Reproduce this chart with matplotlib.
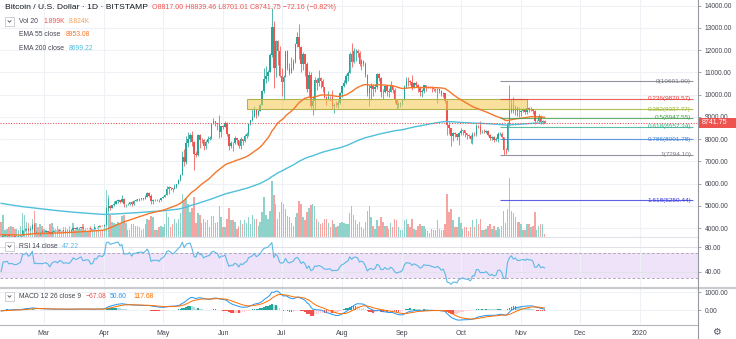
import numpy as np
import pandas as pd
import matplotlib
matplotlib.use("Agg")
import matplotlib.pyplot as plt
from matplotlib.patches import Rectangle
from matplotlib.lines import Line2D

plt.rcParams['font.family'] = ['Liberation Sans', 'DejaVu Sans']

W, H = 736, 339

# ---------------- daily BTC/USD bars (Bitstamp), 2019-02-07 .. 2019-11-13 ----------------
first_date = "2019-02-07"
first_open = 3400.0
last_open = 8817.00

close = [
    # Feb
    3399, 3666, 3673, 3690, 3625, 3637, 3625, 3605, 3614, 3635, 3671, 3912, 3926, 3980, 3916, 3968,
    4145, 3809, 3838, 3816, 3824, 3816,
    # Mar
    3834, 3849, 3816, 3740, 3845, 3883, 3891, 3864, 3931, 3917, 3870, 3886, 3878, 3877, 3924, 4005,
    3981, 3986, 4016, 4040, 3984, 3993, 4004, 3998, 3943, 3952, 4047, 4041, 4114, 4111, 4105,
    # Apr
    4158, 4880, 4974, 4922, 5036, 5082, 5200, 5258, 5178, 5325, 5064, 5089, 5096, 5167, 5067, 5235,
    5251, 5298, 5303, 5337, 5314, 5399, 5572, 5464, 5210, 5279, 5268, 5285, 5247, 5350,
    # May
    5402, 5505, 5768, 5831, 5795, 5746, 5829, 5982, 6174, 6379, 7204, 6972, 7815, 7994, 8205, 7885,
    7343, 7272, 8197, 7978, 7963, 7680, 7881, 7987, 8052, 8673, 8805, 8719, 8659, 8319, 8574,
    # Jun
    8564, 8742, 8208, 7707, 7824, 7822, 8043, 7954, 7688, 8000, 7927, 8145, 8230, 8693, 8838, 8975,
    9320, 9081, 9273, 9527, 10144, 10701, 10855, 11011, 11790, 13016, 11182, 12407, 11959, 10817,
    # Jul
    10583, 10801, 11961, 11215, 10978, 11208, 11450, 12285, 12573, 12156, 11358, 11815, 11392, 10256,
    10895, 9477, 9693, 10666, 10530, 10767, 10599, 10343, 9900, 9811, 9911, 9871, 9477, 9552, 9519,
    9607, 10085,
    # Aug
    10399, 10518, 10821, 10970, 11805, 11478, 11941, 11966, 11862, 11354, 11523, 11382, 10895, 10051,
    10311, 10374, 10231, 10345, 10918, 10763, 10138, 10131, 10407, 10159, 10138, 10370, 10185, 9754,
    9510, 9598, 9630,
    # Sep
    9757, 10346, 10623, 10594, 10575, 10353, 10517, 10441, 10334, 10115, 10178, 10410, 10360, 10358,
    10347, 10276, 10241, 10198, 10266, 10181, 10019, 10070, 9729, 8620, 8486, 8118, 8251, 8245, 8104,
    8293,
    # Oct
    8343, 8393, 8259, 8205, 8151, 7988, 8245, 8228, 8595, 8586, 8321, 8336, 8321, 8374, 8205, 8047,
    8103, 7973, 7988, 8222, 8243, 8078, 7514, 7493, 8660, 9244, 9551, 9256, 9427, 9205, 9199,
    # Nov
    9261, 9324, 9235, 9413, 9342, 9360, 9267, 8804, 8813, 9055, 8757, 8813.91, 8741.75,
]

high = [
    3427, 3700, 3683, 3700, 3694, 3664, 3667, 3640, 3645, 3665, 3700, 3920, 4000, 3990, 4010, 3985,
    4200, 4210, 3880, 3845, 3845, 3895,
    3868, 3860, 3850, 3830, 3880, 3900, 3915, 3940, 3950, 3935, 3920, 3900, 3895, 3920, 3935, 4050,
    4005, 4035, 4030, 4055, 4070, 4010, 4015, 4010, 4000, 3965, 4060, 4050, 4125, 4135, 4120,
    4175, 4960, 5345, 5060, 5060, 5230, 5250, 5330, 5265, 5470, 5340, 5100, 5120, 5180, 5200, 5250,
    5290, 5320, 5340, 5350, 5340, 5480, 5630, 5620, 5530, 5330, 5310, 5320, 5295, 5370,
    5420, 5540, 5900, 5880, 5850, 5800, 5990, 6000, 6190, 6430, 7450, 7560, 8150, 8300, 8280, 8350,
    7930, 7470, 8240, 8210, 8040, 8020, 7950, 8140, 8120, 8720, 8950, 8820, 8730, 9100, 8600,
    8620, 8810, 8750, 8240, 7900, 7870, 8140, 8060, 7970, 8090, 8000, 8230, 8310, 8720, 8870, 9350,
    9470, 9330, 9300, 9560, 10200, 11200, 11300, 11100, 11850, 13880, 13300, 12450, 12450, 12200,
    11200, 10900, 11980, 12000, 11400, 11700, 11600, 12330, 12800, 13150, 12200, 11900, 11840, 11450,
    11050, 11000, 9950, 10800, 10750, 11100, 10800, 10680, 10350, 9930, 10170, 9950, 10200, 9620, 9720,
    9750, 10100,
    10450, 10650, 10920, 11080, 11900, 12300, 12100, 12050, 12030, 11950, 11580, 11540, 11450, 10920,
    10440, 10520, 10480, 10490, 10950, 10950, 10800, 10250, 10450, 10420, 10300, 10600, 10400, 10280,
    9780, 9680, 9670,
    9800, 10450, 10800, 10780, 10640, 10900, 10560, 10590, 10480, 10400, 10240, 10450, 10440, 10400,
    10390, 10370, 10280, 10270, 10300, 10300, 10200, 10100, 10080, 9800, 8750, 8520, 8300, 8320, 8250,
    8330,
    8500, 8410, 8400, 8280, 8230, 8170, 8330, 8330, 8670, 8640, 8800, 8400, 8450, 8400, 8400, 8210,
    8130, 8120, 8100, 8300, 8320, 8330, 8090, 7600, 8780, 10450, 9800, 9900, 9540, 9440, 9420,
    9300, 9380, 9380, 9500, 9460, 9420, 9370, 9300, 8850, 9120, 9060, 8880, 8839.46,
]

low = [
    3383, 3390, 3634, 3620, 3610, 3584, 3607, 3584, 3599, 3610, 3620, 3660, 3860, 3900, 3880, 3905,
    3950, 3740, 3785, 3770, 3680, 3790,
    3810, 3805, 3795, 3715, 3730, 3830, 3865, 3840, 3855, 3880, 3855, 3835, 3855, 3830, 3875, 3915,
    3955, 3955, 3975, 3995, 3960, 3970, 3980, 3980, 3910, 3920, 3945, 4020, 4035, 4070, 4090,
    4085, 4150, 4790, 4810, 4920, 5000, 5065, 5150, 5140, 5170, 4960, 4950, 5050, 5050, 5000, 5060,
    5220, 5240, 5230, 5280, 5250, 5300, 5390, 5400, 5100, 5070, 5240, 5240, 5190, 5230,
    5345, 5395, 5495, 5550, 5700, 5610, 5745, 5780, 5980, 6130, 6370, 6800, 6890, 7660, 7860, 7670,
    6600, 7200, 7250, 7600, 7840, 7500, 7560, 7820, 7950, 8000, 8670, 8600, 8420, 8050, 8100,
    8460, 8540, 8130, 7500, 7600, 7460, 7790, 7800, 7590, 7540, 7750, 7850, 8060, 8160, 8620, 8830,
    8970, 8940, 9050, 9250, 9520, 10080, 10540, 10600, 11000, 11700, 10300, 10800, 11350, 10800,
    9950, 9750, 10800, 11100, 10880, 10960, 11100, 11400, 12150, 11600, 11000, 11100, 10850, 10100,
    9900, 9400, 9070, 9300, 10200, 10400, 10300, 10100, 9850, 9550, 9750, 9700, 9370, 9150, 9450,
    9400, 9590,
    9900, 10350, 10480, 10600, 10950, 11250, 11400, 11500, 11700, 11300, 11100, 11300, 10780, 9950,
    9500, 9750, 9950, 10100, 10260, 10600, 9900, 9800, 10050, 9950, 9900, 10100, 10050, 9620,
    9350, 9380, 9460,
    9550, 9740, 10300, 10400, 10450, 10200, 10300, 10330, 10100, 9950, 9900, 10050, 10150, 10300,
    10280, 10100, 10150, 10100, 9620, 10080, 9950, 9900, 9620, 8200, 8250, 7700, 7900, 8100, 7950,
    7720,
    8200, 8200, 8100, 8000, 8050, 7830, 7800, 8130, 8150, 8480, 8250, 8280, 8260, 8260, 8120, 7960,
    7950, 7850, 7900, 7880, 8180, 8030, 7294.10, 7350, 7450, 8600, 9150, 9170, 9100, 9050, 8970,
    9050, 9210, 9130, 9140, 9200, 9260, 9120, 8680, 8750, 8750, 8700, 8660, 8701.01,
]

# volume, thousands of BTC
volume_k = [
    11, 16, 5, 6, 7, 8, 7, 6, 6, 5, 8, 17, 16, 11, 10, 8, 13, 19, 10, 7, 9, 8,
    6, 5, 4, 9, 10, 7, 6, 8, 6, 4, 7, 7, 6, 8, 6, 10, 5, 7, 6, 6, 9, 5, 4, 4, 8, 6, 9, 5, 8, 5, 4,
    8, 34, 30, 16, 11, 10, 9, 11, 9, 15, 16, 10, 5, 5, 9, 9, 8, 8, 7, 5, 6, 9, 13, 12, 15, 14, 5, 5, 7, 8,
    7, 9, 18, 14, 7, 9, 13, 10, 13, 17, 31, 26, 28, 24, 18, 21, 29, 10, 17, 16, 10, 13, 11, 12, 7, 15,
    15, 10, 11, 22, 14,
    7, 7, 13, 21, 12, 12, 11, 6, 8, 12, 9, 12, 10, 14, 9, 16, 13, 13, 8, 11, 18, 29, 16, 13, 19, 40,
    30, 24, 13, 18,
    25, 24, 20, 15, 14, 10, 8, 14, 17, 26, 24, 14, 12, 18, 21, 23, 24, 22, 13, 11, 9, 10, 13, 13, 10,
    7, 12, 9, 7, 8, 10,
    11, 10, 9, 9, 17, 22, 16, 12, 9, 11, 7, 6, 11, 19, 22, 14, 8, 6, 12, 8, 14, 11, 8, 8, 6, 10, 7,
    13, 12, 7, 5,
    5, 12, 13, 9, 7, 13, 6, 5, 8, 9, 8, 8, 6, 4, 3, 6, 5, 5, 12, 6, 5, 5, 9, 31, 18, 20, 12, 7, 7, 14,
    10, 6, 7, 7, 4, 7, 12, 7, 13, 9, 13, 5, 5, 6, 8, 9, 6, 8, 5, 7, 6, 8, 19, 10, 20, 42, 19, 17, 14,
    11, 11,
    9, 5, 5, 9, 9, 7, 8, 18, 5, 8, 9, 9, 1.899,
]

# latest indicator readings shown in the pane legends
vol_ma_text = "8.824K"
ema55_text, ema200_text = "8953.08", "8699.22"
rsi_text = "47.22"
macd_hist_text, macd_text, macd_signal_text = "\u221267.08", "50.60", "117.68"

# ---------------- drawings ----------------
fib_levels = ["0", "0.236", "0.382", "0.5", "0.618", "0.786", "1", "1.618"]
fib_prices = [10601.00, 9820.57, 9337.77, 8947.55, 8557.34, 8001.78, 7294.10, 5250.44]
fib_colors = ["#787b86", "#e53935", "#9ab52c", "#43a047", "#2fae8c", "#3d7fd6", "#787b86", "#3a3adf"]
fib_start, fib_end = "2019-10-21", "2020-01-28"

zone_low, zone_high = 9370, 9780
zone_start, zone_end = "2019-06-13", "2019-11-04"

# indicator state carried in from the bars before the window
ema55_prior, ema200_prior = 3720.0, 5130.0
ema12_prior, ema26_prior, signal_prior = 3480.0, 3530.0, -45.0
rsi_gain_prior, rsi_loss_prior = 25.0, 37.0

month_ticks = ["2019-03-01", "2019-04-01", "2019-05-01", "2019-06-01", "2019-07-01", "2019-08-01",
               "2019-09-01", "2019-10-01", "2019-11-01", "2019-12-01", "2020-01-01"]
month_labels = ["Mar", "Apr", "May", "Jun", "Jul", "Aug", "Sep", "Oct", "Nov", "Dec", "2020"]
price_ticks = [4000, 5000, 6000, 7000, 8000, 9000, 10000, 11000, 12000, 13000, 14000]
rsi_ticks = [40, 80]
macd_ticks = [0, 1000]

# ---------------- derived series ----------------
origin = pd.Timestamp("2019-03-01")
def day(d):
    return (pd.Timestamp(d) - origin).days

dates = pd.date_range(first_date, periods=len(close), freq="D")
x = np.array([(d - origin).days for d in dates], dtype=float)
c = np.array(close, dtype=float)
h = np.array(high, dtype=float)
l = np.array(low, dtype=float)
o = np.concatenate([[first_open], c[:-1]])
o[-1] = last_open
v = np.array(volume_k, dtype=float)

def ema(vals, span, prior):
    a = 2.0 / (span + 1)
    out, e = [], prior
    for val in vals:
        e += a * (val - e)
        out.append(e)
    return np.array(out)

def rsi(vals, prev, n, g, lo):
    out = []
    for val in vals:
        d = val - prev
        g = (g * (n - 1) + max(d, 0)) / n
        lo = (lo * (n - 1) + max(-d, 0)) / n
        out.append(100 - 100 / (1 + g / lo))
        prev = val
    return np.array(out)

ema55 = ema(c, 55, ema55_prior)
ema200 = ema(c, 200, ema200_prior)
macd = ema(c, 12, ema12_prior) - ema(c, 26, ema26_prior)
signal = ema(macd, 9, signal_prior)
hist = macd - signal
rsi14 = rsi(c, first_open, 14, rsi_gain_prior, rsi_loss_prior)

up = c >= o
UP, DN = "#26a69a", "#ef5350"
candle_col = np.where(up, UP, DN)

# ---------------- figure ----------------
fig = plt.figure(figsize=(W / 100, H / 100), dpi=100)
fig.patch.set_facecolor("white")

def frac_rect(x0, y0, x1, y1):
    return [x0 / W, 1 - y1 / H, (x1 - x0) / W, (y1 - y0) / H]

XL = (-22.59, 335.8)
PANE_R = 698
GRID = "#eef1f5"
TXT = "#434651"
FS_AX = 4.8
FS_LEG = 4.9
FS_FIB = 4.6

ax_vol = fig.add_axes(frac_rect(0, 0, PANE_R, 237))
ax = fig.add_axes(frac_rect(0, 0, PANE_R, 237), sharex=ax_vol)
ax_rsi = fig.add_axes(frac_rect(0, 237, PANE_R, 287), sharex=ax_vol)
ax_macd = fig.add_axes(frac_rect(0, 289, PANE_R, 324), sharex=ax_vol)

for a in (ax_vol, ax, ax_rsi, ax_macd):
    for s in a.spines.values():
        s.set_visible(False)
    a.set_xlim(*XL)
ax.patch.set_alpha(0)

month_x = [day(m) for m in month_ticks]

def right_scale(a, ticks):
    a.yaxis.tick_right()
    a.set_yticks(ticks)
    a.set_yticklabels([f"{t:.2f}" for t in ticks])
    a.tick_params(axis="y", length=2.5, width=0.6, color="#9598a1", labelsize=FS_AX,
                  labelcolor=TXT, pad=2.2)

# volume pane (underneath the price pane)
ax_vol.set_ylim(0, 170)
ax_vol.set_yticks([])
ax_vol.tick_params(axis="x", length=0, labelbottom=False)
for mx in month_x:
    ax_vol.axvline(mx, color=GRID, lw=0.8, zorder=0)
ax_vol.hlines(price_ticks, XL[0], XL[1], color=GRID, lw=0.8, zorder=0, transform=ax.transData)
ax_vol.bar(x, v, width=0.75, color=np.where(up, "#8fd2ca", "#f5a4a2"), linewidth=0, zorder=1)

# price pane
ax.set_ylim(3600, 14250)
right_scale(ax, price_ticks)
ax.tick_params(axis="x", length=0, labelbottom=False)

ax.vlines(x, l, h, colors=candle_col, lw=0.55, zorder=3)
ax.bar(x, np.abs(c - o), bottom=np.minimum(o, c), width=0.75, color=candle_col, linewidth=0, zorder=3)

ax.add_patch(Rectangle((day(zone_start), zone_low), day(zone_end) - day(zone_start), zone_high - zone_low,
                       facecolor=(0.965, 0.78, 0.30, 0.55), edgecolor="#b3b44e", lw=0.8, zorder=4))

ax.plot(x, ema200, color="#4fc0da", lw=1.0, zorder=5)
ax.plot(x, ema55, color="#f4772b", lw=1.0, zorder=5)

ax.axhline(c[-1], color="#ef5350", lw=0.7, dashes=(1.2, 1.5), zorder=6)

fx0, fx1 = day(fib_start), day(fib_end)
for lvl, p, col in zip(fib_levels, fib_prices, fib_colors):
    ax.hlines(p, fx0, fx1, color=col, lw=0.8, alpha=0.8, zorder=6)
    ax.text(fx1 - 0.8, p, f"{lvl}({p:.2f})", color=col, fontsize=FS_FIB, ha="right", va="center", zorder=7)

# RSI pane
ax_rsi.set_ylim(15, 97)
ax_rsi.axhspan(30, 70, color="#efe3fa", lw=0, zorder=0)
for mx in month_x:
    ax_rsi.axvline(mx, color=GRID, lw=0.8, zorder=1)
for t in rsi_ticks:
    ax_rsi.axhline(t, color="#e3e0ea", lw=0.7, zorder=1)
for t in (70, 30):
    ax_rsi.axhline(t, color="#b4a9bd", lw=0.7, dashes=(3, 2), zorder=2)
ax_rsi.plot(x, rsi14, color="#5cb8e6", lw=0.8, zorder=3)
right_scale(ax_rsi, rsi_ticks)
ax_rsi.tick_params(axis="x", length=0, labelbottom=False)

# MACD pane
ax_macd.set_ylim(-790, 1186)
for mx in month_x:
    ax_macd.axvline(mx, color=GRID, lw=0.8, zorder=0)
for t in macd_ticks:
    ax_macd.axhline(t, color=GRID, lw=0.8, zorder=0)
prev = np.concatenate([[hist[0]], hist[:-1]])
hcol = np.where(hist >= 0, np.where(hist >= prev, "#26a69a", "#b2dfdb"),
                np.where(hist >= prev, "#ffcdd2", "#ef5350"))
ax_macd.bar(x, hist, width=0.8, color=hcol, linewidth=0, zorder=1)
ax_macd.plot(x, macd, color="#2196f3", lw=0.7, zorder=2)
ax_macd.plot(x, signal, color="#ff6d00", lw=0.7, zorder=2)
right_scale(ax_macd, macd_ticks)
ax_macd.set_xticks(month_x)
ax_macd.set_xticklabels(month_labels)
ax_macd.tick_params(axis="x", length=0, labelsize=FS_AX + 0.2, labelcolor=TXT, pad=4.5)

# pane separators and axis lines
def hline_px(y, x0, x1, color, lw):
    fig.add_artist(Line2D([x0 / W, x1 / W], [1 - y / H, 1 - y / H], color=color, lw=lw))

hline_px(237, 0, PANE_R, "#e0e3eb", 0.8)
hline_px(288, 0, W, "#c9cbd1", 1.6)
hline_px(324.5, 0, PANE_R, "#b2b5be", 0.8)
fig.add_artist(Line2D([PANE_R / W, PANE_R / W], [0, 1], color="#9598a1", lw=0.8))

# last-price tag on the price scale
y_last = ax.transData.transform((0, c[-1]))[1]
tag_h = 10 / H
fig.add_artist(Rectangle((PANE_R / W + 0.002, y_last / H - tag_h / 2), (W - PANE_R) / W, tag_h,
                         facecolor="#ef5350", edgecolor="none", transform=fig.transFigure))
fig.text((PANE_R + 4) / W, y_last / H, f"{c[-1]:.2f}", color="white", fontsize=FS_AX + 0.3,
         va="center", ha="left")

# legends
def ftext(xp, yp, s, color, size=FS_LEG):
    fig.text(xp / W, 1 - yp / H, s, color=color, fontsize=size, va="center", ha="left")

def dropdown(xp, yp):
    fig.add_artist(Rectangle((xp / W, 1 - (yp + 4.5) / H), 9 / W, 9 / H, facecolor="white",
                             edgecolor="#c5c7cc", lw=0.6, transform=fig.transFigure))
    fig.add_artist(Line2D([(xp + 3) / W, (xp + 4.5) / W, (xp + 6) / W],
                          [1 - (yp - 0.8) / H, 1 - (yp + 0.8) / H, 1 - (yp - 0.8) / H],
                          color="#50535e", lw=0.6))

chg = c[-1] - c[-2]
pct = chg / c[-2] * 100
ftext(5, 7.5, "Bitcoin / U.S. Dollar · 1D · BITSTAMP", "#131722", size=6.1)
ftext(152, 7.5, f"O{o[-1]:.2f} H{h[-1]:.2f} L{l[-1]:.2f} C{c[-1]:.2f} "
                f"\u2212{abs(chg):.2f} (\u2212{abs(pct):.2f}%)", "#ef5350", size=5.1)
dropdown(5, 21.5)
ftext(19, 21.5, "Vol 20", TXT)
ftext(43, 21.5, f"{v[-1]:.3f}K", "#ef5350")
ftext(69, 21.5, vol_ma_text, "#f6a35c")
ftext(19, 34.5, "EMA 55 close", TXT)
ftext(66, 34.5, ema55_text, "#f4772b")
ftext(19, 48, "EMA 200 close", TXT)
ftext(69, 48, ema200_text, "#4fc0da")

dropdown(5, 246.5)
ftext(19, 246.5, "RSI 14 close", TXT)
ftext(62, 246.5, rsi_text, "#5cb8e6")

dropdown(5, 296.5)
ftext(19, 296.5, "MACD 12 26 close 9", TXT)
ftext(86, 296.5, macd_hist_text, "#ef5350")
ftext(110, 296.5, macd_text, "#2196f3")
ftext(133, 296.5, macd_signal_text, "#ff6d00")

fig.text(716 / W, 1 - 332 / H, "\u2699", color="#50535e", fontsize=7, ha="center", va="center")

fig.savefig("out.png", dpi=100)
